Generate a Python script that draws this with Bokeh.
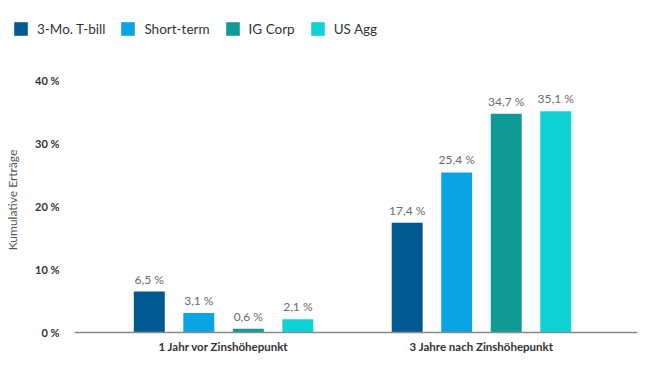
from bokeh.plotting import figure
from bokeh.layouts import column, row
from bokeh.models import ColumnDataSource, Range1d, FixedTicker, Legend, LegendItem
from bokeh.core.properties import value
from bokeh.transform import dodge
from bokeh.embed import file_html
from bokeh.resources import INLINE

categories = ["1 Jahr vor Zinshöhepunkt", "3 Jahre nach Zinshöhepunkt"]
series = ["3-Mo. T-bill", "Short-term", "IG Corp", "US Agg"]
tbill = [6.5, 17.4]
short_term = [3.1, 25.4]
ig_corp = [0.6, 34.7]
us_agg = [2.1, 35.1]
y_ticks = [0, 10, 20, 30, 40]

colors = ["#035a92", "#0aa3e3", "#0f9a98", "#0fd2d4"]
FONT = "Lato"

x = list(range(len(categories)))
data = dict(x=x, tbill=tbill, short_term=short_term, ig_corp=ig_corp, us_agg=us_agg)
keys = ["tbill", "short_term", "ig_corp", "us_agg"]
for key in keys:
    data[key + "_lbl"] = [("%.1f" % v).replace(".", ",") + " %" for v in data[key]]
src = ColumnDataSource(data)

# ---- main chart ----
p = figure(width=642, height=304, output_backend="svg", toolbar_location=None,
           x_range=Range1d(-0.578, 1.605), y_range=Range1d(0, 42.06),
           min_border_left=74, min_border_right=5, min_border_top=8, min_border_bottom=31)
p.outline_line_color = None
p.grid.visible = False

offsets = [-0.288, -0.096, 0.096, 0.288]
for key, off, col in zip(keys, offsets, colors):
    p.vbar(x=dodge("x", off), top=key, width=0.12, source=src, color=col, line_color=None)
    p.text(x=dodge("x", off), y=key, text=key + "_lbl", source=src,
           text_align="center", text_baseline="bottom", y_offset=-5,
           text_font_size="12px", text_color="#6b6b6b", text_font=value(FONT))

p.xaxis.ticker = FixedTicker(ticks=x)
p.xaxis.major_label_overrides = {i: c for i, c in enumerate(categories)}
p.xaxis.major_tick_line_color = None
p.xaxis.minor_tick_line_color = None
p.xaxis.axis_line_color = "#8a8a8a"
p.xaxis.axis_line_width = 1.5
p.xaxis.major_label_text_font = FONT
p.xaxis.major_label_text_font_style = "bold"
p.xaxis.major_label_text_font_size = "11.5px"
p.xaxis.major_label_text_color = "#333333"
p.xaxis.major_label_standoff = 1

p.yaxis.ticker = FixedTicker(ticks=y_ticks)
p.yaxis.major_label_overrides = {t: "%d %%" % t for t in y_ticks}
p.yaxis.axis_line_color = None
p.yaxis.major_tick_line_color = None
p.yaxis.minor_tick_line_color = None
p.yaxis.major_label_text_font = FONT
p.yaxis.major_label_text_font_style = "bold"
p.yaxis.major_label_text_font_size = "11px"
p.yaxis.major_label_text_color = "#333333"
p.yaxis.major_label_standoff = 9
p.yaxis.axis_label = "Kumulative Erträge"
p.yaxis.axis_label_text_font = FONT
p.yaxis.axis_label_text_font_style = "normal"
p.yaxis.axis_label_text_font_size = "12px"
p.yaxis.axis_label_text_color = "#555555"
p.yaxis.axis_label_standoff = 12

# ---- legend strip (its bars lie outside its own ranges, only the legend shows) ----
lg = figure(width=642, height=59, output_backend="svg", toolbar_location=None,
            x_range=Range1d(50, 51), y_range=Range1d(100, 101),
            x_axis_location=None, y_axis_location=None,
            min_border_left=0, min_border_right=0, min_border_top=0, min_border_bottom=0)
lg.outline_line_color = None
lg.grid.visible = False
leg_renderers = [lg.vbar(x="x", top=key, width=0.12, source=src, color=c, line_color=None)
                 for key, c in zip(keys, colors)]
legend = Legend(items=[LegendItem(label=s, renderers=[r]) for s, r in zip(series, leg_renderers)],
                orientation="horizontal", location=(12, 22),
                glyph_width=17, glyph_height=17, label_standoff=8, spacing=14,
                label_text_font=FONT, label_text_font_size="13.5px", label_text_color="#333333",
                border_line_color=None, background_fill_alpha=0, padding=0, margin=0)
lg.add_layout(legend, "center")

layout = column(row(lg), p, spacing=0)
open("out.html", "w").write(file_html(layout, INLINE))
